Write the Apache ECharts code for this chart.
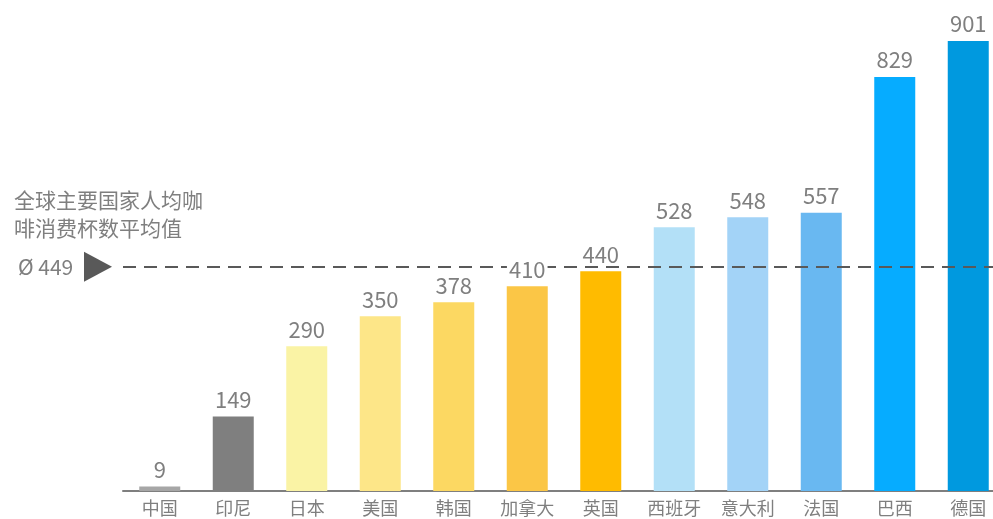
<!DOCTYPE html>
<html><head><meta charset="utf-8">
<script src="https://cdn.jsdelivr.net/npm/echarts@6/dist/echarts.min.js"></script>
<style>html,body{margin:0;padding:0;background:#fff}#c{width:993px;height:519px}</style>
</head><body><div id="c"></div>
<script>
const categories = ['中国','印尼','日本','美国','韩国','加拿大','英国','西班牙','意大利','法国','巴西','德国'];
const values = [9,149,290,350,378,410,440,528,548,557,829,901];
const barColors = ['#a6a6a6','#7f7f7f','#faf3a5','#fde688','#fcd862','#fbc646','#ffbb00','#b3e0f7','#a3d3f7','#69b8f1','#06acff','#0099df'];
const averageValue = 449;
const averageLabel = 'Ø 449';
const averageTitle = ['全球主要国家人均咖', '啡消费杯数平均值'];

const FONT = '"Noto Sans CJK SC","Noto Sans",sans-serif';
const chart = echarts.init(document.getElementById('c'));
chart.setOption({
  animation: false,
  grid: {left: 123, right: -12, top: 41, bottom: 28, outerBoundsMode: 'none', containLabel: false},
  xAxis: {
    type: 'category', data: categories,
    axisLine: {lineStyle: {color: '#7f7f7f', width: 2}},
    axisTick: {show: false},
    axisLabel: {color: '#7f7f7f', fontSize: 18, fontFamily: FONT, margin: 8}
  },
  yAxis: {type: 'value', min: 0, max: 901, show: false, splitLine: {show: false}},
  series: [{
    type: 'bar', barWidth: 41, z: 2,
    data: values.map((v, i) => ({value: v, itemStyle: {color: barColors[i]}})),
    markLine: {
      silent: true, symbol: ['none', 'none'], z: 3,
      lineStyle: {color: '#595959', type: [13, 8], width: 2},
      label: {show: false},
      data: [{yAxis: averageValue}]
    }
  }, {
    type: 'bar', barWidth: 41, barGap: '-100%', z: 6, silent: true,
    data: values,
    itemStyle: {color: 'rgba(0,0,0,0)'},
    label: {show: true, position: 'top', distance: 6, color: '#7f7f7f', fontSize: 22, fontFamily: FONT,
      backgroundColor: '#fff', padding: [0, 2]}
  }]
});
const y = chart.convertToPixel({yAxisIndex: 0}, averageValue);
chart.setOption({
  graphic: [
    {type: 'polygon', shape: {points: [[84, y - 15], [112, y], [84, y + 15]]}, style: {fill: '#595959'}},
    {type: 'text', x: 18, y: y, style: {text: averageLabel, fill: '#7f7f7f', font: '21px ' + FONT, textVerticalAlign: 'middle'}},
    {type: 'text', x: 14, y: y - 67, style: {text: averageTitle[0], fill: '#7f7f7f', font: '21px ' + FONT, textVerticalAlign: 'middle'}},
    {type: 'text', x: 14, y: y - 39, style: {text: averageTitle[1], fill: '#7f7f7f', font: '21px ' + FONT, textVerticalAlign: 'middle'}}
  ]
});
</script></body></html>
